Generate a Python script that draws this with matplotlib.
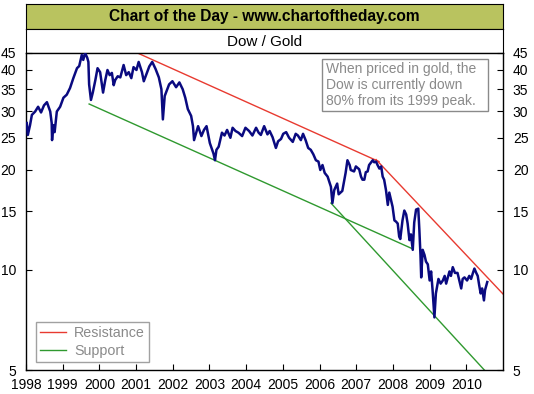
import matplotlib
matplotlib.use("Agg")
import matplotlib.pyplot as plt
from matplotlib.patches import Rectangle
from matplotlib.ticker import FixedLocator, FixedFormatter, NullLocator

plt.rcParams['font.family'] = ['Liberation Sans', 'DejaVu Sans']

# Dow / Gold ratio (decimal year, ratio)
years = [1998.02, 1998.05, 1998.11, 1998.16, 1998.25, 1998.33, 1998.41, 1998.49, 1998.57, 1998.66,
         1998.70, 1998.71, 1998.74, 1998.78, 1998.84, 1998.93, 1999.02, 1999.11, 1999.20, 1999.29,
         1999.39, 1999.45, 1999.52, 1999.56, 1999.61, 1999.67, 1999.70, 1999.72, 1999.77, 1999.82,
         1999.89, 1999.95, 2000.02, 2000.06, 2000.10, 2000.16, 2000.22, 2000.28, 2000.34, 2000.39,
         2000.43, 2000.50, 2000.57, 2000.66, 2000.73, 2000.80, 2000.87, 2000.93, 2001.01, 2001.07,
         2001.16, 2001.21, 2001.30, 2001.36, 2001.44, 2001.53, 2001.62, 2001.69, 2001.73, 2001.78,
         2001.84, 2001.90, 2001.99, 2002.09, 2002.18, 2002.27, 2002.34, 2002.41, 2002.50, 2002.55,
         2002.58, 2002.69, 2002.78, 2002.85, 2002.92, 2003.01, 2003.11, 2003.15, 2003.19, 2003.25,
         2003.34, 2003.41, 2003.48, 2003.57, 2003.63, 2003.71, 2003.79, 2003.89, 2003.98, 2004.08,
         2004.17, 2004.27, 2004.34, 2004.40, 2004.49, 2004.58, 2004.64, 2004.72, 2004.81, 2004.87,
         2004.95, 2005.01, 2005.09, 2005.17, 2005.27, 2005.35, 2005.41, 2005.49, 2005.55, 2005.62,
         2005.69, 2005.76, 2005.83, 2005.90, 2005.97, 2006.02, 2006.08, 2006.14, 2006.22, 2006.31,
         2006.35, 2006.40, 2006.48, 2006.52, 2006.62, 2006.71, 2006.76, 2006.82, 2006.85, 2006.94,
         2006.99, 2007.08, 2007.13, 2007.17, 2007.22, 2007.26, 2007.31, 2007.35, 2007.45, 2007.49,
         2007.54, 2007.58, 2007.63, 2007.68, 2007.72, 2007.76, 2007.81, 2007.86, 2007.90, 2007.95,
         2007.99, 2008.04, 2008.08, 2008.13, 2008.17, 2008.20, 2008.26, 2008.31, 2008.36, 2008.40,
         2008.45, 2008.49, 2008.54, 2008.58, 2008.63, 2008.69, 2008.72, 2008.75, 2008.77, 2008.81,
         2008.86, 2008.90, 2008.95, 2009.00, 2009.04, 2009.08, 2009.13, 2009.17, 2009.24, 2009.30,
         2009.36, 2009.41, 2009.45, 2009.54, 2009.58, 2009.63, 2009.69, 2009.76, 2009.81, 2009.86,
         2009.90, 2009.95, 2010.02, 2010.08, 2010.13, 2010.18, 2010.22, 2010.27, 2010.31, 2010.35,
         2010.39, 2010.43, 2010.48, 2010.51, 2010.57]
ratio = [27.7, 25.5, 27.3, 29.3, 30.0, 31.0, 29.8, 31.3, 32.0, 30.0,
         27.7, 24.6, 27.3, 26.0, 30.0, 31.0, 33.0, 33.7, 35.3, 37.8,
         40.5, 41.1, 44.4, 42.9, 45.0, 43.5, 42.3, 36.2, 32.5, 34.2,
         37.3, 40.5, 39.4, 36.8, 34.2, 37.3, 40.0, 38.6, 39.2, 36.0,
         37.3, 38.3, 38.0, 41.4, 38.6, 39.4, 37.8, 40.8, 40.0, 42.3,
         39.4, 37.0, 39.4, 41.0, 42.3, 40.3, 38.0, 35.0, 28.4, 33.4,
         34.8, 36.2, 37.0, 35.5, 36.7, 35.0, 33.0, 30.5, 29.1, 27.1,
         24.6, 27.1, 25.3, 26.4, 27.1, 24.1, 22.4, 21.4, 23.0, 23.5,
         25.9, 25.4, 26.4, 25.0, 26.8, 26.2, 25.9, 25.3, 26.8, 26.2,
         25.4, 26.8, 25.9, 25.5, 27.1, 25.6, 26.2, 25.1, 23.3, 24.4,
         24.8, 25.7, 26.0, 25.0, 24.3, 25.7, 25.4, 24.6, 25.7, 24.6,
         23.3, 23.0, 22.3, 21.4, 21.2, 20.0, 20.7, 19.6, 19.1, 17.8,
         15.9, 17.4, 18.2, 16.9, 17.3, 19.6, 21.4, 20.7, 20.0, 19.8,
         20.5, 20.1, 19.1, 18.7, 18.7, 19.7, 19.8, 20.7, 21.4, 21.1,
         21.2, 20.7, 20.2, 20.5, 19.1, 18.7, 17.4, 15.7, 17.1, 16.2,
         15.5, 14.1, 14.0, 13.8, 12.6, 12.4, 14.1, 15.1, 14.7, 13.8,
         12.3, 12.8, 11.5, 13.9, 15.2, 15.3, 13.2, 11.1, 9.5, 11.5,
         11.1, 10.6, 10.4, 9.3, 9.9, 8.7, 7.2, 8.5, 9.4, 9.1,
         9.3, 9.6, 9.1, 9.9, 9.6, 10.2, 9.8, 9.8, 9.3, 8.8,
         9.4, 9.5, 9.3, 9.6, 9.4, 9.8, 10.1, 9.8, 9.6, 9.0,
         8.5, 8.8, 8.1, 8.7, 9.2]

# trend lines (start / end points)
resist1_x = [2000.98, 2007.62]
resist1_y = [45.3, 21.2]
resist2_x = [2007.54, 2011.03]
resist2_y = [21.5, 8.4]
support1_x = [1999.72, 2008.52]
support1_y = [31.6, 11.6]
support2_x = [2006.31, 2010.49]
support2_y = [15.9, 5.0]

ytick_vals = [5, 10, 15, 20, 25, 30, 35, 40, 45]
xtick_vals = list(range(1998, 2011))

navy = '#0a0a80'
red = '#e83a30'
green = '#2f992f'
grey = '#8a8a8a'

fig = plt.figure(figsize=(5.34, 3.94), dpi=100)

# header bars
hdr = fig.add_axes([0.0487, 0.9264, 0.8933, 0.0635])
hdr.set_facecolor('#b9c35f')
hdr.set_xticks([])
hdr.set_yticks([])
hdr.text(0.5, 0.5, "Chart of the Day - www.chartoftheday.com", ha='center', va='center',
         fontsize=11.2, fontweight='bold', transform=hdr.transAxes)

sub = fig.add_axes([0.0487, 0.8655, 0.8933, 0.0609])
sub.set_facecolor('white')
sub.set_xticks([])
sub.set_yticks([])
sub.text(0.5, 0.45, "Dow / Gold", ha='center', va='center', fontsize=11, transform=sub.transAxes)

ax = fig.add_axes([0.0487, 0.0609, 0.8933, 0.8046])
ax.plot(years, ratio, color=navy, linewidth=1.8, zorder=3)
ax.plot(resist1_x, resist1_y, color=red, linewidth=1, label='Resistance', zorder=2)
ax.plot(resist2_x, resist2_y, color=red, linewidth=1, zorder=2)
ax.plot(support1_x, support1_y, color=green, linewidth=1, label='Support', zorder=2)
ax.plot(support2_x, support2_y, color=green, linewidth=1, zorder=2)

ax.set_yscale('log')
ax.set_ylim(5, 45)
ax.set_xlim(1998, 2011)
ax.yaxis.set_major_locator(FixedLocator(ytick_vals))
ax.yaxis.set_major_formatter(FixedFormatter([str(v) for v in ytick_vals]))
ax.yaxis.set_minor_locator(NullLocator())
ax.set_xticks(xtick_vals)
ax.set_xticklabels([str(v) for v in xtick_vals])
ax.tick_params(axis='y', which='major', direction='in', left=True, right=True,
               labelleft=True, labelright=True, length=4, pad=7, labelsize=10)
ax.tick_params(axis='x', direction='in', length=4, pad=6, labelsize=10)
for s in ax.spines.values():
    s.set_linewidth(1)

# note box
ax.add_patch(Rectangle((0.6205, 0.817), 0.348, 0.164, transform=ax.transAxes,
                       facecolor='white', edgecolor=grey, linewidth=1, zorder=4))
ax.text(0.628, 0.973, "When priced in gold, the\nDow is currently down\n80% from its 1999 peak.",
        transform=ax.transAxes, ha='left', va='top', fontsize=10, color=grey,
        linespacing=1.2, zorder=5)

leg = ax.legend(loc='lower left', bbox_to_anchor=(0.02, 0.025), fancybox=False, edgecolor=grey,
                fontsize=10.3, handlelength=1.8, borderpad=0.3, labelspacing=0.25,
                handletextpad=0.6, borderaxespad=0)
for t in leg.get_texts():
    t.set_color(grey)

plt.savefig("out.png", dpi=100)
